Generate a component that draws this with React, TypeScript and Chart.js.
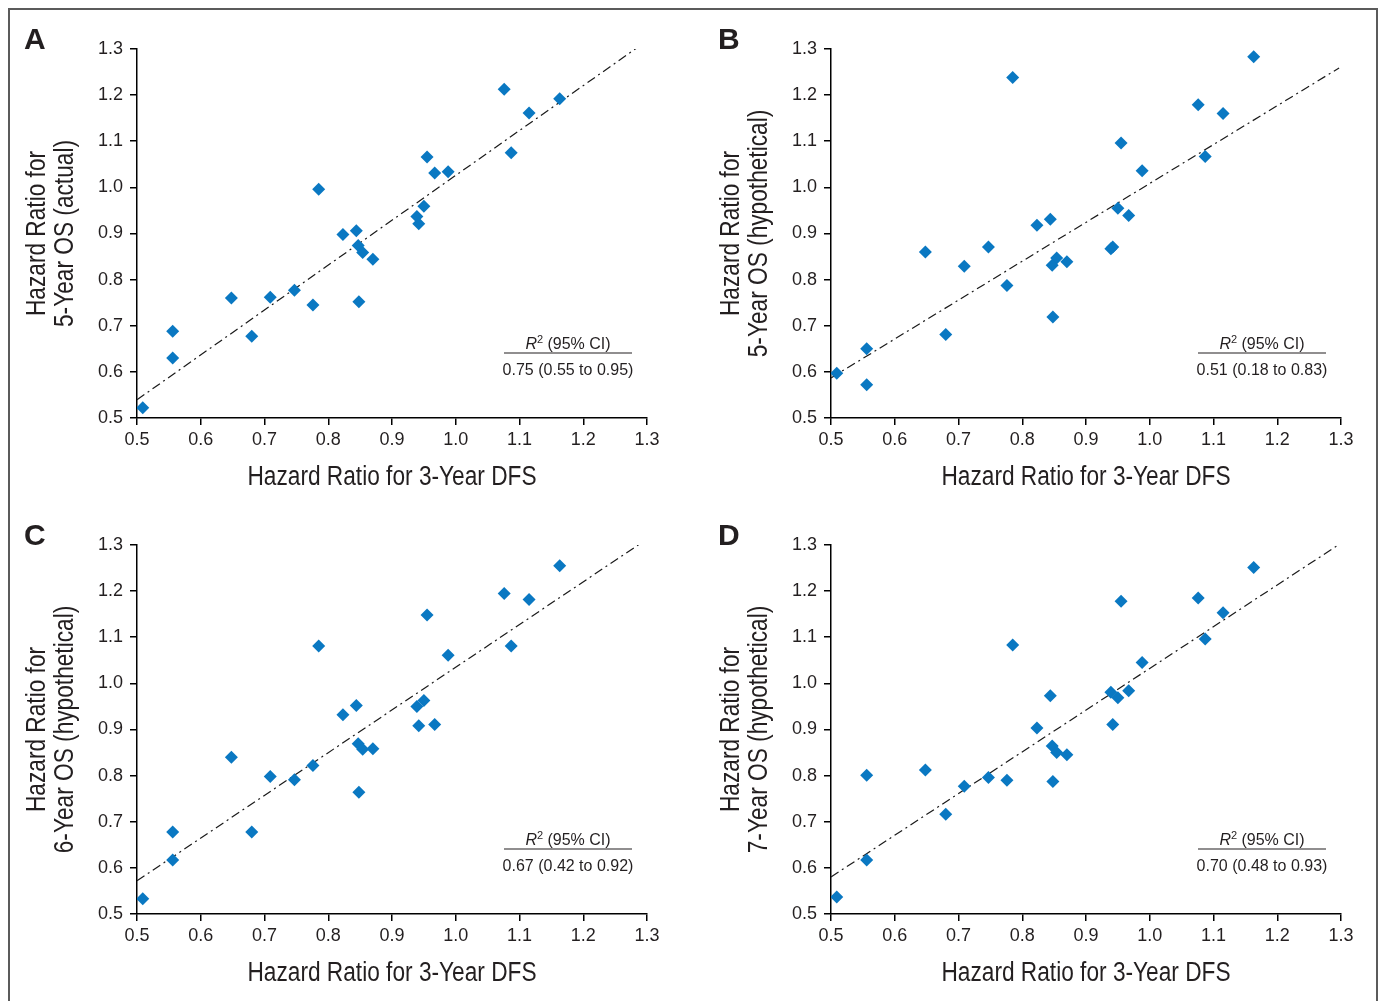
import React, { useEffect, useRef } from 'react';
import { Chart, registerables } from 'chart.js';

Chart.register(...registerables);

// Shared x values: hazard ratio for 3-year DFS (one per trial comparison)
const dfsHR = [0.509, 0.556, 0.556, 0.648, 0.680, 0.709, 0.747, 0.776, 0.785, 0.823, 0.844, 0.847, 0.854, 0.870, 0.848, 0.939, 0.942, 0.950, 0.955, 0.967, 0.988, 1.076, 1.087, 1.115, 1.163];

// Y values per panel
const os5Actual = [0.522, 0.688, 0.630, 0.760, 0.677, 0.762, 0.777, 0.745, 0.996, 0.898, 0.906, 0.874, 0.859, 0.844, 0.752, 0.937, 0.921, 0.959, 1.066, 1.031, 1.034, 1.213, 1.075, 1.161, 1.192];
const os5Hyp = [0.597, 0.650, 0.572, 0.860, 0.681, 0.829, 0.871, 0.787, 1.238, 0.918, 0.931, 0.831, 0.847, 0.839, 0.719, 0.867, 0.871, 0.955, 1.096, 0.939, 1.036, 1.179, 1.067, 1.160, 1.283];
const os6Hyp = [0.533, 0.678, 0.617, 0.840, 0.678, 0.798, 0.791, 0.822, 1.081, 0.932, 0.952, 0.869, 0.857, 0.858, 0.764, 0.950, 0.908, 0.963, 1.148, 0.911, 1.061, 1.195, 1.081, 1.182, 1.255];
const os7Hyp = [0.537, 0.617, 0.801, 0.812, 0.716, 0.777, 0.796, 0.790, 1.083, 0.903, 0.973, 0.864, 0.850, 0.845, 0.787, 0.981, 0.911, 0.969, 1.178, 0.984, 1.045, 1.185, 1.096, 1.153, 1.251];

// Regression fits: intercept, slope, x where the drawn line ends
const fitIntercepts = [0.053, 0.1655, 0.109, 0.128];
const fitSlopes = [0.973, 0.843, 0.926, 0.9045];
const fitEnds = [1.287, 1.297, 1.2885, 1.296];

const panelLetters = ['A', 'B', 'C', 'D'];
const yTitles = ['5-Year OS (actual)', '5-Year OS (hypothetical)', '6-Year OS (hypothetical)', '7-Year OS (hypothetical)'];
const r2Texts = ['0.75 (0.55 to 0.95)', '0.51 (0.18 to 0.83)', '0.67 (0.42 to 0.92)', '0.70 (0.48 to 0.93)'];
const xTitle = 'Hazard Ratio for 3-Year DFS';
const yTitlePrefix = 'Hazard Ratio for';
const axisMin = 0.5;
const axisMax = 1.3;
const axisStep = 0.1;

const TEXT = '#231f20';
const MARKER = '#0a78c2';
const SANS = "'Liberation Sans', Arial, Helvetica, sans-serif";
const TITLE_SCALE = 0.84; // condensed look of the original axis titles

const CW = 687;
const CH = 500;

function drawCondensed(ctx: CanvasRenderingContext2D, text: string, x: number, y: number, rot: number) {
  ctx.save();
  ctx.translate(x, y);
  ctx.rotate(rot);
  ctx.scale(TITLE_SCALE, 1);
  ctx.textAlign = 'center';
  ctx.textBaseline = 'middle';
  ctx.fillText(text, 0, 0);
  ctx.restore();
}

const annotPlugin = {
  id: 'annot',
  afterDraw(chart: any) {
    const o = chart.options.plugins.annot;
    if (!o) return;
    const { ctx, chartArea } = chart;
    ctx.save();
    ctx.fillStyle = TEXT;
    ctx.strokeStyle = TEXT;

    // panel letter
    ctx.font = `bold 30px ${SANS}`;
    ctx.textAlign = 'left';
    ctx.textBaseline = 'alphabetic';
    ctx.fillText(o.letter, 24, 49);

    // axis titles (condensed)
    ctx.font = `27px ${SANS}`;
    const midX = (chartArea.left + chartArea.right) / 2;
    const midY = (chartArea.top + chartArea.bottom) / 2;
    drawCondensed(ctx, o.xTitle, midX, chartArea.bottom + 60, 0);
    drawCondensed(ctx, o.yTitle[0], 38, midY, -Math.PI / 2);
    drawCondensed(ctx, o.yTitle[1], 66, midY, -Math.PI / 2);

    // R^2 header
    const cx = chartArea.right - 79;
    const yHead = chartArea.bottom - 69;
    const fR = `italic 16px ${SANS}`;
    const fSup = `11px ${SANS}`;
    const fN = `16px ${SANS}`;
    const rest = ' (95% CI)';
    ctx.textAlign = 'left';
    ctx.textBaseline = 'alphabetic';
    ctx.font = fR; const wR = ctx.measureText('R').width;
    ctx.font = fSup; const wS = ctx.measureText('2').width;
    ctx.font = fN; const wRest = ctx.measureText(rest).width;
    let x = cx - (wR + wS + wRest) / 2;
    ctx.font = fR; ctx.fillText('R', x, yHead); x += wR;
    ctx.font = fSup; ctx.fillText('2', x, yHead - 6); x += wS;
    ctx.font = fN; ctx.fillText(rest, x, yHead);

    // rule
    ctx.lineWidth = 1.2;
    ctx.beginPath();
    ctx.moveTo(cx - 64, chartArea.bottom - 65);
    ctx.lineTo(cx + 64, chartArea.bottom - 65);
    ctx.stroke();

    // value
    ctx.font = fN;
    ctx.textAlign = 'center';
    ctx.fillText(o.r2, cx, chartArea.bottom - 43);
    ctx.restore();
  },
};

function Panel({ idx, ys, left, top }: { idx: number; ys: number[]; left: number; top: number }) {
  const ref = useRef<HTMLCanvasElement>(null);
  useEffect(() => {
    const a = fitIntercepts[idx];
    const b = fitSlopes[idx];
    const xEnd = fitEnds[idx];
    const axisCommon = {
      type: 'linear' as const,
      min: axisMin,
      max: axisMax,
      grid: { drawOnChartArea: false, drawTicks: true, tickLength: 7, color: '#000', lineWidth: 1.5 },
      border: { display: true, color: '#000', width: 1.5 },
      title: { display: false },
    };
    const chart = new Chart(ref.current as HTMLCanvasElement, {
      type: 'scatter',
      data: {
        datasets: [
          {
            type: 'scatter',
            data: dfsHR.map((x, i) => ({ x, y: ys[i] })),
            pointStyle: 'rectRot',
            pointRadius: 6.5,
            pointBackgroundColor: MARKER,
            pointBorderWidth: 0,
            order: 1,
          } as any,
          {
            type: 'line',
            data: [
              { x: axisMin, y: a + b * axisMin },
              { x: xEnd, y: a + b * xEnd },
            ],
            borderColor: '#1a1a1a',
            borderWidth: 1.2,
            borderDash: [9, 4, 2, 4],
            pointRadius: 0,
            fill: false,
            order: 2,
          } as any,
        ],
      },
      options: {
        animation: false,
        responsive: false,
        devicePixelRatio: 1,
        layout: { padding: { left: 0, top: 49, right: 40, bottom: 0 } },
        plugins: {
          legend: { display: false },
          tooltip: { enabled: false },
          annot: {
            letter: panelLetters[idx],
            r2: r2Texts[idx],
            xTitle,
            yTitle: [yTitlePrefix, yTitles[idx]],
          },
        } as any,
        scales: {
          x: {
            ...axisCommon,
            afterFit: (s: any) => { s.height = 82; },
            ticks: {
              stepSize: axisStep,
              autoSkip: false,
              maxRotation: 0,
              padding: 4,
              color: TEXT,
              font: { family: SANS, size: 18 },
              callback: (v: any) => Number(v).toFixed(1),
            },
          },
          y: {
            ...axisCommon,
            afterFit: (s: any) => { s.width = 137; },
            ticks: {
              stepSize: axisStep,
              autoSkip: false,
              padding: 7,
              color: TEXT,
              font: { family: SANS, size: 18 },
              callback: (v: any) => Number(v).toFixed(1),
            },
          },
        } as any,
      },
      plugins: [annotPlugin],
    });
    return () => chart.destroy();
  }, [idx, ys]);
  return (
    <canvas
      ref={ref}
      width={CW}
      height={CH}
      style={{ position: 'absolute', left, top, width: CW, height: CH }}
    />
  );
}

export default function App() {
  return (
    <div style={{ position: 'absolute', left: 0, top: 0, width: 1380, height: 1001, overflow: 'hidden', background: '#fff' }}>
      <div style={{ position: 'absolute', left: 8, top: 8, width: 1370, height: 1100, border: '2px solid #5b5b5b', boxSizing: 'border-box' }} />
      <Panel idx={0} ys={os5Actual} left={0} top={0} />
      <Panel idx={1} ys={os5Hyp} left={694} top={0} />
      <Panel idx={2} ys={os6Hyp} left={0} top={496} />
      <Panel idx={3} ys={os7Hyp} left={694} top={496} />
    </div>
  );
}
